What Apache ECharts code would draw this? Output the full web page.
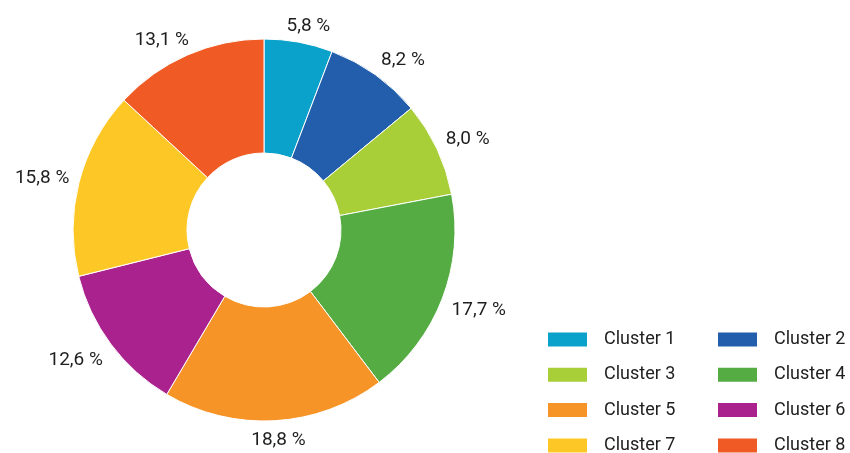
<!DOCTYPE html>
<html>
<head>
<meta charset="utf-8">
<script src="https://cdn.jsdelivr.net/npm/echarts@6/dist/echarts.min.js"></script>
<style>
  html, body { margin: 0; padding: 0; background: #fff; }
  #chart { width: 850px; height: 453px; }
</style>
</head>
<body>
<div id="chart"></div>
<script>
const categories = ['Cluster 1', 'Cluster 2', 'Cluster 3', 'Cluster 4', 'Cluster 5', 'Cluster 6', 'Cluster 7', 'Cluster 8'];
const values = [5.8, 8.2, 8.0, 17.7, 18.8, 12.6, 15.8, 13.1];
const colors = ['#0AA1CB', '#225EAB', '#A8CE38', '#55AC43', '#F79427', '#A9228D', '#FDC826', '#F05A24'];
const legendCol1 = ['Cluster 1', 'Cluster 3', 'Cluster 5', 'Cluster 7'];
const legendCol2 = ['Cluster 2', 'Cluster 4', 'Cluster 6', 'Cluster 8'];

const FONT = 'Roboto';
const TEXT_COLOR = '#1e1e1e';
const CX = 264, CY = 230;

const chart = echarts.init(document.getElementById('chart'), null, { renderer: 'canvas' });

const legendBase = {
  orient: 'vertical',
  top: 330.5,
  height: 140,
  padding: 0,
  itemWidth: 41,
  itemHeight: 16,
  itemGap: 17.3,
  icon: 'rect',
  selectedMode: false,
  textStyle: {
    fontFamily: FONT,
    fontSize: 18,
    lineHeight: 18,
    color: TEXT_COLOR,
    padding: [0, 0, 0, 11]
  }
};

// Excel-like "outside end" placement: push the label box outward until it clears the anchor
function sat(v) { return Math.max(-1, Math.min(1, v / 0.5)); }

chart.setOption({
  animation: false,
  color: colors,
  legend: [
    Object.assign({}, legendBase, { left: 546, data: legendCol1 }),
    Object.assign({}, legendBase, { left: 716, data: legendCol2 })
  ],
  series: [{
    type: 'pie',
    center: [CX, CY],
    radius: [77, 191],
    startAngle: 90,
    clockwise: true,
    avoidLabelOverlap: false,
    itemStyle: { borderColor: '#ffffff', borderWidth: 1 },
    emphasis: { disabled: true },
    label: {
      show: true,
      position: 'outside',
      distanceToLabelLine: 0,
      fontFamily: FONT,
      fontSize: 19,
      color: TEXT_COLOR,
      formatter: function (p) {
        return p.value.toFixed(1).replace('.', ',') + ' %';
      }
    },
    labelLine: { show: false, length: 10, length2: 0 },
    labelLayout: function (p) {
      const r = p.labelRect;
      const ax = p.align === 'right' ? r.x + r.width : r.x;
      const ay = r.y + r.height / 2;
      const dx = ax - CX, dy = ay - CY;
      const d = Math.hypot(dx, dy) || 1;
      return {
        x: ax + (r.width / 2) * sat(dx / d),
        y: ay + 8 * sat(dy / d) + 2,
        align: 'center',
        verticalAlign: 'middle'
      };
    },
    data: categories.map(function (name, i) {
      return { name: name, value: values[i] };
    })
  }]
});
</script>
</body>
</html>
